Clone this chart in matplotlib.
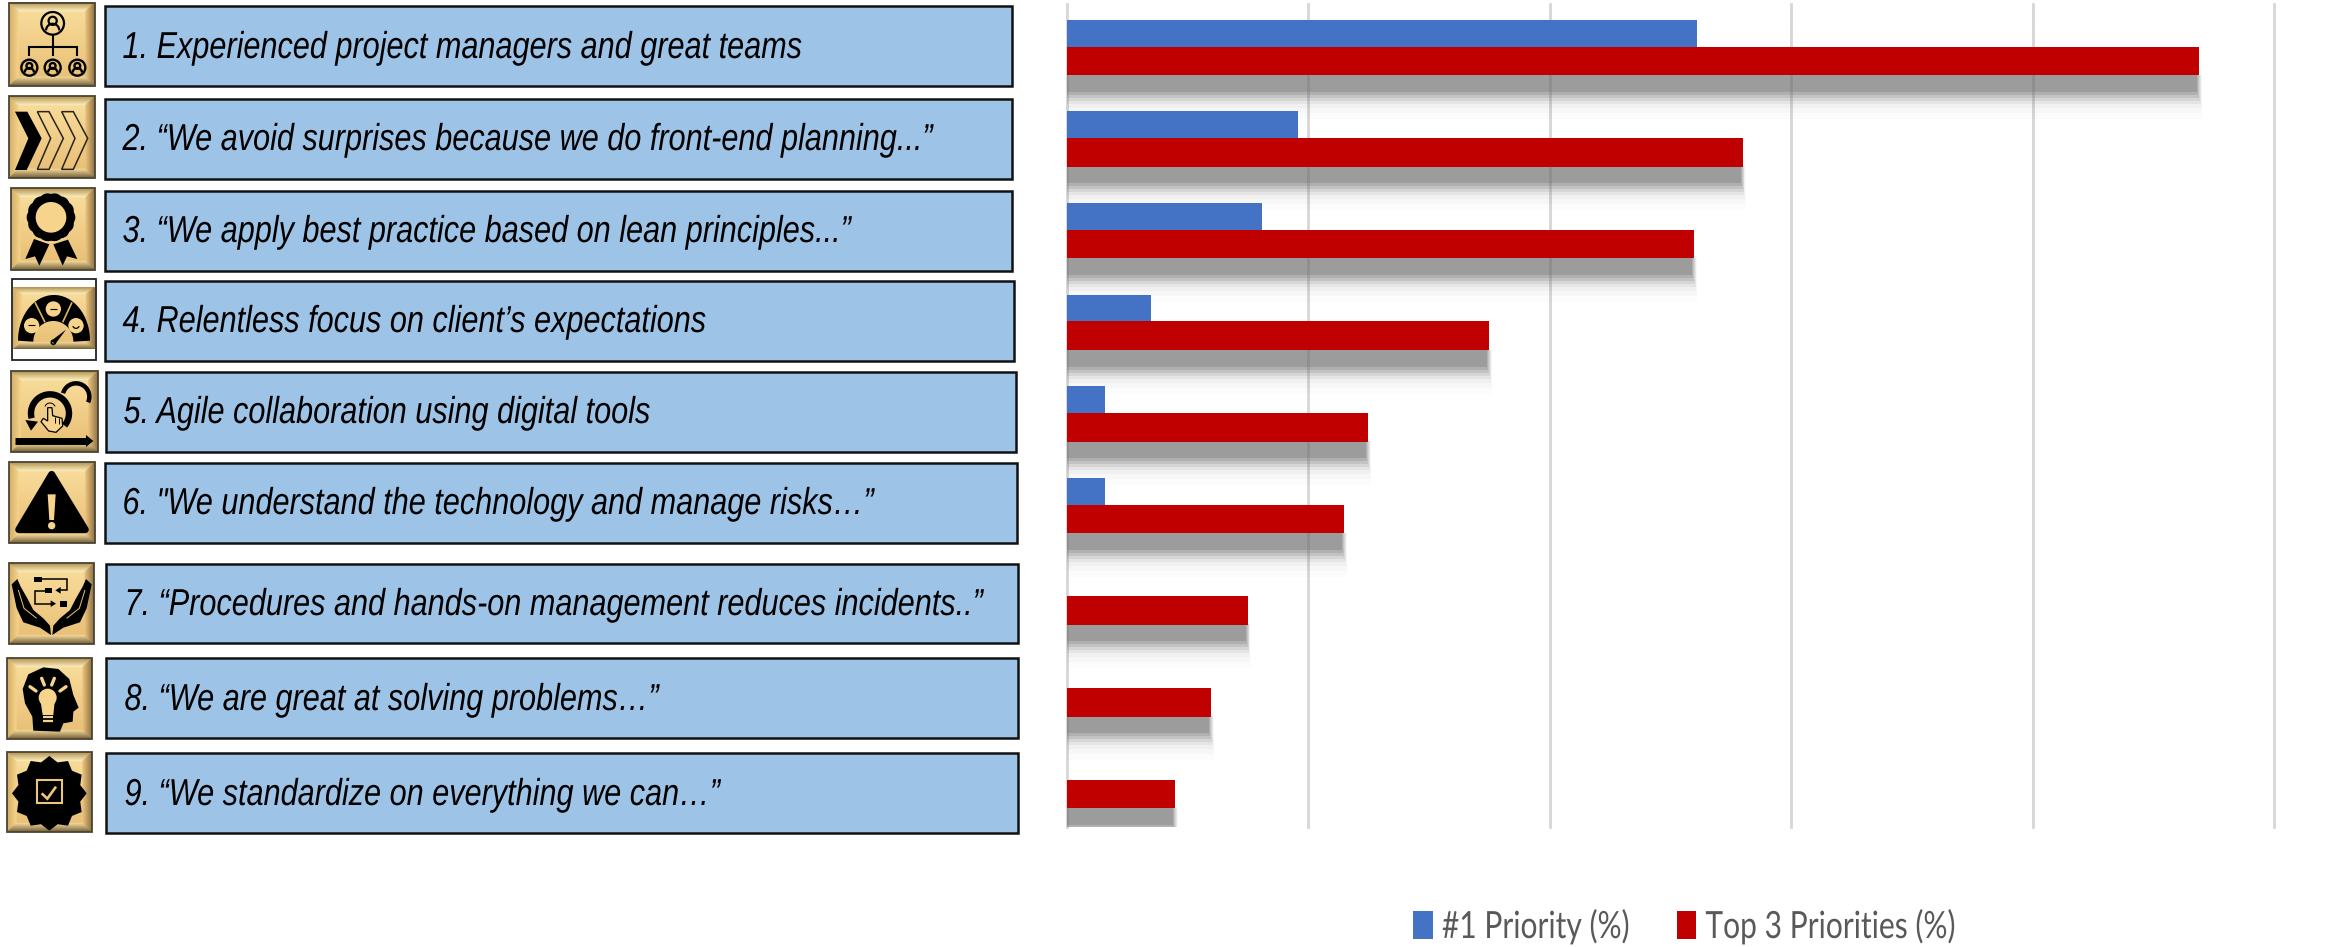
import matplotlib
matplotlib.use("Agg")
import matplotlib.pyplot as plt
import numpy as np
from matplotlib.colors import to_rgb
from matplotlib.patches import Rectangle, Circle, Polygon
from matplotlib.patheffects import AbstractPathEffect
from matplotlib.transforms import Affine2D

labels = [
    "1. Experienced project managers and great teams",
    "2. \u201cWe avoid surprises because we do front-end planning...\u201d",
    "3. \u201cWe apply best practice based on lean principles...\u201d",
    "4. Relentless focus on client\u2019s expectations",
    "5. Agile collaboration using digital tools",
    "6. \"We understand the technology and manage risks\u2026\u201d",
    "7. \u201cProcedures and hands-on management reduces incidents..\u201d",
    "8. \u201cWe are great at solving problems\u2026\u201d",
    "9. \u201cWe standardize on everything we can\u2026\u201d",
]
priority_1 = [26.1, 9.6, 8.1, 3.5, 1.6, 1.6, 0, 0, 0]
priority_top3 = [46.9, 28.0, 26.0, 17.5, 12.5, 11.5, 7.5, 6.0, 4.5]
series_names = ["#1 Priority (%)", "Top 3 Priorities (%)"]
grid_ticks = [0, 10, 20, 30, 40, 50]

W, H = 2330, 947
fig = plt.figure(figsize=(W / 100, H / 100), dpi=100)


class Squeeze(AbstractPathEffect):
    # the reference text is horizontally squeezed
    def __init__(self, x0, sx):
        super().__init__()
        self.x0, self.sx = x0, sx

    def draw_path(self, renderer, gc, tpath, affine, rgbFace=None):
        sq = Affine2D().translate(-self.x0, 0).scale(self.sx, 1).translate(self.x0, 0)
        renderer.draw_path(gc, tpath, affine + sq, rgbFace)


# left column is laid out in image pixels
bg = fig.add_axes([0, 0, 1, 1])
bg.set_xlim(0, W)
bg.set_ylim(H, 0)
bg.axis("off")

boxes = [(105, 1012, 6, 86), (105, 1012, 99, 179), (105, 1012, 191, 271),
         (105, 1014, 281, 361), (106, 1016, 372, 452), (105, 1017, 463, 543),
         (106, 1018, 564, 643), (106, 1018, 658, 738), (106, 1018, 753, 833)]
text_pos = [(122.5, 58), (122.5, 150), (122.5, 242), (122.5, 332), (123.5, 423),
            (122.5, 514), (124.5, 615), (124.5, 710), (124.5, 805)]
for (x0, x1, y0, y1), (tx, ty), lab in zip(boxes, text_pos, labels):
    bg.add_patch(Rectangle((x0, y0), x1 - x0, y1 - y0, fc="#9DC3E6", ec="#111111", lw=1.8, zorder=2))
    bg.text(tx, ty, lab, fontsize=27, style="italic", color="black", va="baseline",
            family="Liberation Sans", zorder=3, path_effects=[Squeeze(tx, 0.817)])


def gold_tile(x0, x1, y0, y1, edge=True):
    n = 160
    v, u = np.mgrid[0:1:n * 1j, 0:1:n * 1j]
    def c(name):
        return np.array(to_rgb(name))
    img = np.zeros((n, n, 3))
    t = np.clip((v - 0.1) / 0.8, 0, 1)[..., None]
    img[:] = c("#f8dc9a") * (1 - t) + c("#e9c077") * t
    w = 0.11
    d = np.minimum.reduce([u, 1 - u, v, 1 - v])
    s = np.clip(d / w, 0, 1)[..., None]
    top = (v <= u) & (v <= 1 - u) & (v < w)
    bot = (1 - v <= u) & (1 - v <= 1 - u) & (1 - v < w)
    lef = (u < v) & (u < 1 - v) & (u < w)
    rig = (1 - u < v) & (1 - u < 1 - v) & (1 - u < w)
    for mask, outer, inner in [(top, "#b2924f", "#fdf0c0"), (bot, "#75603a", "#f6dc9c"),
                               (lef, "#d2ad66", "#f6d48a"), (rig, "#8f7444", "#eec47c")]:
        col = c(outer) * (1 - s) + c(inner) * s
        img[mask] = col[mask]
    bg.imshow(img, extent=(x0, x1, y1, y0), aspect="auto", zorder=2, interpolation="bilinear")
    if edge:
        bg.add_patch(Rectangle((x0, y0), x1 - x0, y1 - y0, fc="none", ec="#4b4434", lw=1.3, zorder=2.5))


def zoomed(oy):
    # glyphs below are written in the 3x crop coordinates of each icon
    return Affine2D().scale(1 / 3).translate(0, oy) + bg.transData


def poly(tr, pts, fc="black", ec="none", lw=0, z=3, join="miter"):
    bg.add_patch(Polygon(pts, closed=True, fc=fc, ec=ec, lw=lw, zorder=z, transform=tr, joinstyle=join))


def line(tr, xs, ys, color="black", lw=1.3, z=3, cap="butt"):
    bg.plot(xs, ys, color=color, lw=lw, zorder=z, transform=tr, solid_capstyle=cap, solid_joinstyle="miter")


def arc(tr, cx, cy, r, a0, a1, color="black", lw=4.0, z=3):
    a = np.radians(np.linspace(a0, a1, 60))
    line(tr, cx + r * np.cos(a), cy - r * np.sin(a), color=color, lw=lw, z=z)


def circ(tr, cx, cy, r, fc="none", ec="black", lw=1.3, z=3):
    bg.add_patch(Circle((cx, cy), r, fc=fc, ec=ec, lw=lw, zorder=z, transform=tr))


def person(tr, cx, cy, r, lw):
    circ(tr, cx, cy, r, lw=lw)
    circ(tr, cx, cy - r * 0.22, r * 0.36, lw=lw)
    arc(tr, cx, cy + r * 0.62, r * 0.58, 0, 180, lw=lw)


# 1 org chart
gold_tile(9, 94.5, 2.5, 86)
tr = zoomed(0)
person(tr, 158, 70, 34, 1.6)
line(tr, [158, 158], [104, 168], lw=1.5)
line(tr, [88, 88, 232, 232], [168, 141, 141, 168], lw=1.5)
for cx in [88, 158, 232]:
    person(tr, cx, 203, 24, 1.7)

# 2 chevrons
gold_tile(9, 94.5, 96, 178)
tr = zoomed(0)
poly(tr, [(45, 335), (82, 335), (125, 415), (80, 510), (45, 510), (85, 415)])
for dx in [67, 140]:
    pts = [(45 + dx, 335), (80 + dx, 335), (123 + dx, 415), (80 + dx, 508), (45 + dx, 508), (85 + dx, 415)]
    poly(tr, pts, fc="none", ec="#2a2418", lw=1.1)

# 3 rosette
gold_tile(11, 95, 188, 270)
tr = zoomed(185)
th = np.linspace(0, 2 * np.pi, 240)
rr = 70 + 3 * np.abs(np.cos(7 * th))
poly(tr, np.c_[153 + rr * np.cos(th), 97 + rr * np.sin(th)])
circ(tr, 153, 97, 46, fc="#f6d48c", ec="none", lw=0)
poly(tr, [(102, 162), (148, 178), (118, 242), (105, 214), (76, 222)])
poly(tr, [(160, 178), (204, 164), (232, 222), (201, 214), (188, 242)])
arc(tr, 153, 97, 75, 235, 305, color="#f6d48c", lw=1.0, z=3.2)

# 4 gauge
bg.add_patch(Rectangle((12, 279), 84, 81, fc="white", ec="#222222", lw=1.3, zorder=2))
gold_tile(13, 95, 287, 349, edge=False)
tr = zoomed(185)
a = np.radians(np.linspace(0, 180, 80))
poly(tr, np.r_[np.c_[162 + 108 * np.cos(a), 467 - 137 * np.sin(a)],
               np.c_[160 + 60 * np.cos(a[::-1]), 470 - 62 * np.sin(a[::-1])]])
line(tr, [105, 135], [352, 412], color="#d9b56a", lw=1.2, z=3.1)
line(tr, [216, 188], [352, 412], color="#d9b56a", lw=1.2, z=3.1)
for cx, cy in [(95, 422), (160, 372), (228, 422)]:
    circ(tr, cx, cy, 23, fc="#f6d48c", ec="none", lw=0, z=3.1)
line(tr, [85, 105], [420, 420], lw=0.8, z=3.2)
line(tr, [150, 170], [372, 372], lw=0.8, z=3.2)
arc(tr, 228, 420, 10, 200, 340, lw=0.9, z=3.2)
poly(tr, [(153, 468), (198, 434), (166, 477)], z=3.2)
circ(tr, 160, 472, 6, lw=1.2, z=3.2)

# 5 agile loop
gold_tile(11, 97.5, 371, 452)
tr = zoomed(365)
line(tr, [45, 262], [228, 228], lw=5.0)
poly(tr, [(258, 210), (280, 228), (258, 246)])
arc(tr, 150, 145, 57, -40, 195, lw=4.6)
poly(tr, [(76, 165), (114, 170), (93, 197)])
arc(tr, 228, 95, 40, -25, 165, lw=3.2)
poly(tr, [(143, 128), (156, 128), (158, 152), (186, 160), (188, 183), (168, 202), (146, 198),
          (123, 170), (130, 160), (143, 168)], fc="#f6d48c", ec="black", lw=0.9)
line(tr, [165, 165], [157, 175], lw=0.7, z=3.2)
line(tr, [176, 176], [160, 176], lw=0.7, z=3.2)
arc(tr, 150, 130, 16, 20, 160, lw=0.7)

# 6 warning
gold_tile(9, 95, 462, 543)
tr = zoomed(365)
poly(tr, [(155, 328), (256, 494), (56, 494)], ec="black", lw=5, join="round")
poly(tr, [(143, 388), (167, 388), (162, 465), (148, 465)], fc="#f6d48c", z=3.1)
circ(tr, 155, 482, 11, fc="#f6d48c", ec="none", lw=0, z=3.1)

# 7 hands and flow chart
gold_tile(9, 94, 563, 644)
tr = zoomed(555)
hand = [(35, 88), (52, 72), (62, 95), (82, 130), (100, 165), (130, 190), (150, 212), (153, 240),
        (120, 218), (70, 202), (50, 160)]
poly(tr, hand)
poly(tr, [(310 - x, y) for x, y in hand])
line(tr, [55, 72, 110], [105, 160, 190], color="#e8c67c", lw=0.7, z=3.1)
line(tr, [255, 238, 200], [105, 160, 190], color="#e8c67c", lw=0.7, z=3.1)
for x0, y0 in [(103, 65), (135, 98), (180, 138)]:
    bg.add_patch(Rectangle((x0, y0), 22, 17, fc="black", zorder=3, transform=tr))
line(tr, [125, 200, 200, 180], [73, 73, 106, 106], lw=1.1)
poly(tr, [(182, 96), (166, 106), (182, 116)])
line(tr, [135, 105, 105, 155], [107, 107, 146, 146], lw=1.1)
poly(tr, [(152, 136), (168, 146), (152, 156)])

# 8 head and bulb
gold_tile(7, 92, 658, 739)
tr = zoomed(555)
poly(tr, [(100, 527), (97, 485), (75, 445), (68, 402), (85, 358), (130, 337), (175, 342), (208, 372),
          (220, 420), (236, 458), (220, 470), (218, 500), (190, 505), (180, 530)])
circ(tr, 143, 428, 27, fc="#f6d48c", ec="none", lw=0, z=3.1)
poly(tr, [(122, 440), (164, 440), (160, 480), (128, 480)], fc="#f6d48c", z=3.1)
for yy in [486, 498]:
    line(tr, [128, 160], [yy, yy], color="#f6d48c", lw=1.6, z=3.1)
for xs, ys in [([90, 108], [395, 408]), ([125, 133], [370, 390]), ([163, 155], [370, 390]), ([198, 180], [395, 408])]:
    line(tr, xs, ys, color="#f6d48c", lw=2.4, z=3.1, cap="round")

# 9 badge
gold_tile(7, 92, 752, 832)
tr = zoomed(740)
ang = np.radians(np.arange(0, 360, 15) + 90)
rad = np.where(np.arange(24) % 2 == 0, 112, 96)
poly(tr, np.c_[148 + rad * np.cos(ang), 160 - rad * np.sin(ang)])
bg.add_patch(Rectangle((111, 120), 74, 70, fc="none", ec="#ecc67c", lw=1.5, zorder=3.1, transform=tr))
line(tr, [125, 142, 168], [160, 176, 140], color="#ecc67c", lw=1.9, z=3.1)

bg.set_xlim(0, W)
bg.set_ylim(H, 0)

# bar chart
ax = fig.add_axes([1066.5 / W, 1 - 827 / H, (2274 - 1066.5) / W, 823 / H], zorder=1)
ax.patch.set_alpha(0)
row_px = 91.65
bar_h = 27.5 / row_px
y = np.arange(len(labels))
ax.set_xlim(0, 50)
ax.set_ylim(8.51, -0.47)
ax.set_xticks(grid_ticks)
ax.set_yticks([])
ax.tick_params(labelbottom=False, length=0)
ax.grid(axis="x", color="#d6d6d6", lw=2.0, zorder=0)
for gl in ax.get_xgridlines():
    gl.set_clip_on(False)
ax.set_axisbelow(True)
for s in ax.spines.values():
    s.set_visible(False)

# soft drop shadow under the red bars, widest and faintest first
shadow_layers = [(44, 0.02, 0.12), (38, 0.03, 0.10), (33, 0.05, 0.08), (29, 0.08, 0.06),
                 (26, 0.12, 0.04), (23, 0.18, 0.0), (20, 0.22, -0.04), (17, 0.30, -0.08)]
for ext, alpha, dx in shadow_layers:
    ax.barh(y + bar_h + ext / row_px / 2, np.array(priority_top3) + dx, height=ext / row_px,
            color="#6e6e6e", alpha=alpha, lw=0, zorder=1.5)

b1 = ax.barh(y - bar_h / 2, priority_1, height=bar_h, color="#4472C4", label=series_names[0], zorder=2)
b2 = ax.barh(y + bar_h / 2, priority_top3, height=bar_h * 1.04, color="#C00000", label=series_names[1], zorder=2)

leg = ax.legend(handles=[b1, b2], ncol=2, loc="lower left", bbox_to_anchor=(1413 / W, 2 / H),
                bbox_transform=fig.transFigure, frameon=False, labelcolor="#595959",
                borderpad=0, borderaxespad=0, handlelength=0.53, handleheight=0.8,
                handletextpad=0.24, columnspacing=0.0, prop={"family": "Lato", "size": 27})

# squeeze the legend labels around their own left edge
fig.canvas.draw()
for t in leg.get_texts():
    t.set_path_effects([Squeeze(t.get_window_extent().x0, 0.8)])

fig.savefig("out.png", dpi=100)
